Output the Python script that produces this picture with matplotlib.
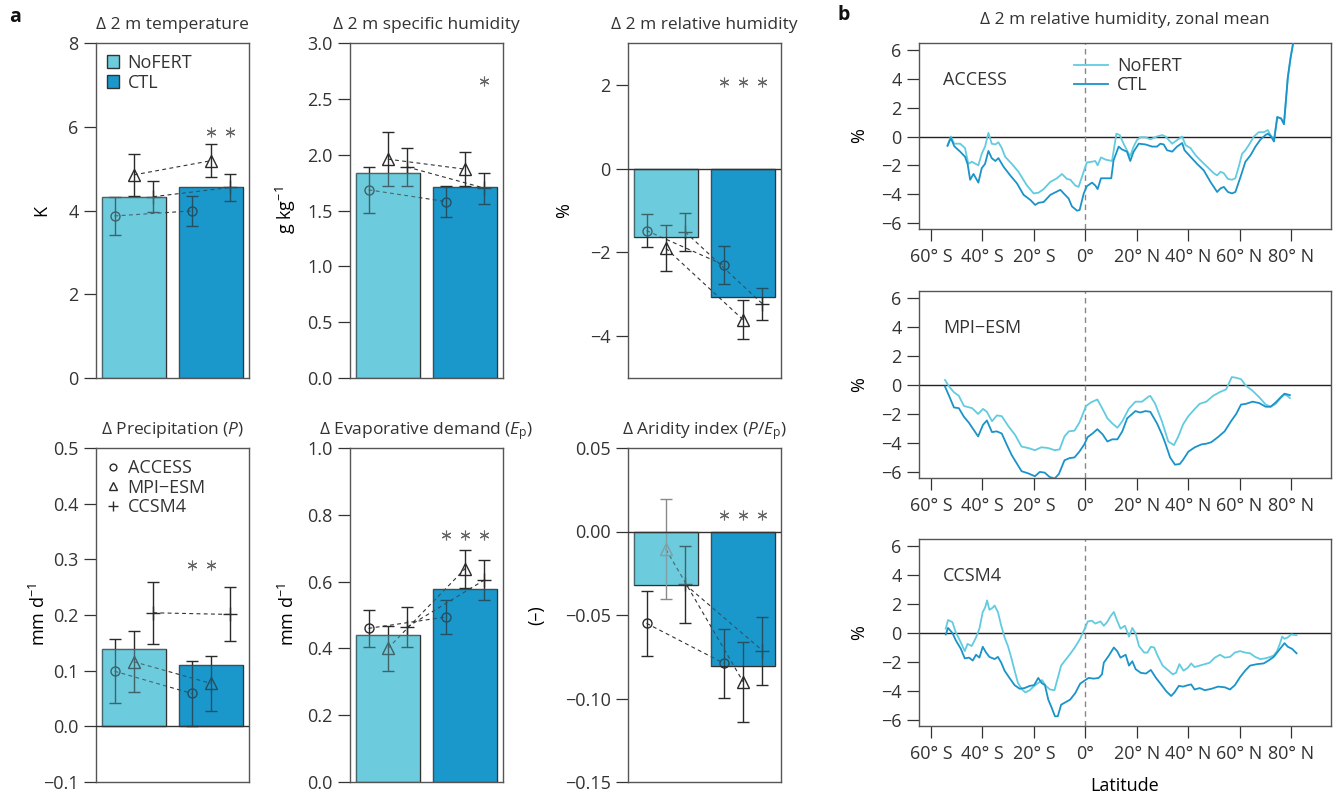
import matplotlib
matplotlib.use("Agg")
import matplotlib.pyplot as plt
from matplotlib.patches import Patch
from matplotlib.lines import Line2D

plt.rcParams['font.family'] = ['Open Sans', 'DejaVu Sans']
plt.rcParams['mathtext.fontset'] = 'custom'
plt.rcParams['mathtext.rm'] = 'Open Sans'
plt.rcParams['mathtext.it'] = 'Open Sans:italic'
plt.rcParams['text.color'] = '#333333'

# ---- panel a data: ensemble means (bars) and per-model values ----
runs = ['NoFERT', 'CTL']
models = ['ACCESS', 'MPI\u2212ESM', 'CCSM4']

temp_mean = [4.33, 4.55]
temp_nofert = [3.87, 4.85, 4.33]
temp_nofert_err = [0.455, 0.50, 0.37]
temp_ctl = [3.99, 5.19, 4.55]
temp_ctl_err = [0.355, 0.40, 0.315]
temp_stars = [False, True, True]

shum_mean = [1.84, 1.71]
shum_nofert = [1.685, 1.96, 1.89]
shum_nofert_err = [0.205, 0.24, 0.17]
shum_ctl = [1.58, 1.87, 1.70]
shum_ctl_err = [0.135, 0.155, 0.14]
shum_stars = [False, False, True]

rhum_mean = [-1.64, -3.06]
rhum_nofert = [-1.48, -1.90, -1.51]
rhum_nofert_err = [0.395, 0.555, 0.46]
rhum_ctl = [-2.30, -3.61, -3.23]
rhum_ctl_err = [0.46, 0.465, 0.39]
rhum_stars = [True, True, True]

prec_mean = [0.139, 0.111]
prec_nofert = [0.099, 0.116, 0.204]
prec_nofert_err = [0.0575, 0.055, 0.0555]
prec_ctl = [0.059, 0.077, 0.201]
prec_ctl_err = [0.059, 0.049, 0.0485]
prec_stars = [True, True, False]

evap_mean = [0.44, 0.578]
evap_nofert = [0.46, 0.40, 0.464]
evap_nofert_err = [0.055, 0.0685, 0.0585]
evap_ctl = [0.494, 0.639, 0.605]
evap_ctl_err = [0.0515, 0.057, 0.06]
evap_stars = [True, True, True]

arid_mean = [-0.0323, -0.0805]
arid_nofert = [-0.055, -0.0106, -0.0317]
arid_nofert_err = [0.0193, 0.0299, 0.0233]
arid_ctl = [-0.0789, -0.090, -0.0713]
arid_ctl_err = [0.0207, 0.024, 0.0204]
arid_stars = [True, True, True]

# ---- panel b data: zonal mean change in 2 m relative humidity (%) ----
acc_lat_nf = [-53.6, -52.3, -51, -48.7, -46.8, -45.5, -44.2, -41.6, -40.3, -39, -37.7, -36.4, -35, -33.8,
              -32.5, -31.2, -28.6, -26, -22.7, -20.1, -18.2, -16.2, -13.6, -11, -9.1, -7.1, -5.8, -3.9, -2.6,
              -1.3, 0.6, 2.6, 3.9, 4.8, 6.1, 7.8, 10.4, 12.1, 13.4, 14.9, 16.9, 17.5, 18.8, 20.1, 21.4, 23.4,
              25.3, 27.9, 29.9, 31.2, 32.5, 33.8, 35.7, 37.7, 39, 40.9, 42.9, 44.8, 47.4, 50, 51.3, 52.6, 53.9,
              55.5, 57.1, 58.4, 59.7, 61, 62.3, 63.6, 65.6, 67.5, 69.5, 71, 72.1, 73.4, 74.7, 76.2, 77.3, 78.8,
              79.9, 80.9, 81.8]
acc_nf = [-0.6, 0.0, -0.5, -0.5, -0.8, -1.9, -1.75, -2.0, -1.2, -0.7, 0.25, -0.5, -0.55, -0.4,
          -0.8, -1.4, -1.9, -2.45, -3.4, -3.95, -3.9, -3.65, -3.15, -2.9, -2.6, -2.95, -3.0, -3.4, -3.5,
          -2.8, -1.8, -1.75, -1.7, -2.0, -1.45, -1.6, -1.7, 0.2, 0.1, -0.5, -1.2, -1.35, -0.7, -0.25, -0.05, -0.05,
          -0.2, 0.0, 0.1, 0.0, -0.25, -0.5, -0.25, 0.0, -0.6, -0.8, -1.3, -1.65, -2.1, -2.55, -2.7, -2.45, -2.55,
          -2.95, -3.0, -2.9, -2.1, -1.2, -0.95, -0.6, 0.0, 0.3, 0.3, 0.45, 0.1, -0.25, 1.35, 1.25, 0.9, 4.1,
          5.5, 6.5, 8.0]
acc_lat_ctl = [-53.6, -52.3, -51, -48.7, -46.8, -45.8, -44.8, -43.5, -41.6, -40.3, -39, -37.7, -36.4, -35,
               -33.8, -31.8, -29.2, -26.6, -24, -21.4, -19.5, -18.2, -16.2, -13.6, -9.7, -8.4, -6.5, -5.2, -3.2,
               -2.2, -0.6, 0.6, 2.6, 3.9, 4.8, 6.1, 8.4, 10.1, 11, 13, 14.3, 16.2, 17.5, 18.8, 20.8, 23.4, 26,
               27.9, 29.2, 30.5, 31.8, 33.8, 35.7, 37.7, 38.6, 40.9, 43.5, 46.1, 48.7, 51.3, 52.6, 53.9, 55.5,
               57.1, 58.4, 60.4, 62.3, 64.3, 66.2, 68.2, 70.1, 71, 72.3, 73.4, 74.7, 76.2, 77.3, 78.8, 79.9,
               80.9, 81.8]
acc_ctl = [-0.65, -0.1, -0.67, -1.05, -1.4, -1.9, -3.0, -2.6, -3.2, -2.2, -1.9, -1.0, -1.5, -1.7,
           -1.5, -2.1, -2.7, -3.25, -4.05, -4.4, -4.75, -4.6, -4.55, -4.05, -3.7, -3.95, -4.3, -4.85, -5.15,
           -5.1, -3.95, -3.45, -3.2, -3.4, -3.65, -2.9, -2.9, -2.9, -1.65, -0.7, -0.9, -1.05, -1.7, -1.05, -0.5,
           -0.55, -0.7, -0.7, -0.5, -0.55, -0.95, -1.05, -0.7, -0.45, -0.95, -1.4, -1.9, -2.35, -3.15, -3.85,
           -3.6, -3.5, -3.85, -3.95, -3.85, -2.8, -1.75, -1.3, -0.7, -0.2, 0.1, 0.2, 0.0, -0.35, 1.35, 1.25,
           0.85, 4.1, 5.5, 6.5, 8.0]

mpi_lat_nf = [-54.6, -53, -51.1, -49.2, -47.2, -44, -41.7, -39.8, -38.3, -36.3, -34.4, -32.5, -29.9, -27.3,
              -24.8, -22.2, -19.6, -17.1, -14.5, -11.9, -10, -8.1, -6.4, -4.2, -2.3, 0.3, 2.2, 4.7, 6.7, 8.6,
              10.5, 12.5, 14.4, 16.9, 19.5, 22.1, 24.6, 25.3, 27.2, 29.8, 32.3, 34.5, 36.2, 38.1, 40.1, 42.6,
              44.5, 47.1, 49.7, 52.2, 54.8, 57, 58.7, 60.6, 62.5, 65.1, 67.7, 70.2, 72.1, 74.1, 76, 77.5,
              78.6, 79.6]
mpi_nf = [0.35, -0.1, -0.5, -0.75, -1.45, -1.6, -2.0, -1.65, -1.85, -2.5, -2.1, -2.15, -2.85, -3.45,
          -4.25, -4.35, -4.5, -4.3, -4.35, -4.5, -4.45, -3.55, -3.2, -3.15, -2.6, -1.45, -1.2, -1.0, -1.65, -2.3,
          -2.65, -2.95, -2.5, -1.65, -1.15, -1.15, -0.8, -0.75, -1.3, -2.5, -3.9, -4.15, -3.55, -2.7, -2.15,
          -1.65, -1.3, -1.15, -0.75, -0.5, -0.3, 0.55, 0.5, 0.4, -0.05, -0.4, -0.85, -1.35, -1.5, -1.3, -0.9,
          -0.65, -0.75, -0.9]
mpi_lat_ctl = [-54.6, -53, -51.1, -49.2, -47.2, -45.3, -41.7, -39.8, -38.3, -36.3, -34.4, -32.5, -30.6,
               -28.6, -26.7, -24.8, -22.2, -19.6, -17.7, -15.8, -13.9, -11.9, -10.3, -8.1, -6.2, -4.2, -2.3,
               -0.4, 0.9, 2.8, 4.7, 6.7, 8.6, 10.5, 12.5, 14.4, 16.3, 19.5, 21.4, 23.4, 25.3, 27.9, 29.8, 31.1,
               33, 34.9, 36.8, 38.1, 40.1, 42.6, 45.2, 47.1, 49, 51.6, 54.2, 56.7, 58.7, 60.6, 62.5, 65.1,
               67.7, 70.2, 72.1, 74.1, 76, 77.5, 78.6, 79.6]
mpi_ctl = [-0.1, -0.75, -1.55, -1.6, -2.2, -2.6, -3.55, -2.75, -2.45, -3.25, -3.2, -3.35, -4.1,
           -4.85, -5.4, -5.95, -6.1, -6.3, -6.0, -6.05, -6.35, -6.45, -6.15, -5.2, -5.05, -5.0, -4.6,
           -4.1, -3.6, -3.35, -3.05, -3.4, -3.9, -3.75, -3.75, -3.2, -2.3, -1.8, -1.9, -1.8, -1.85, -2.65, -3.4,
           -4.0, -5.0, -5.5, -5.45, -5.15, -4.6, -4.3, -4.1, -4.05, -3.95, -3.6, -3.2, -2.5, -2.0, -1.35, -1.3,
           -1.15, -1.25, -1.5, -1.5, -1.2, -0.85, -0.6, -0.65, -0.7]

ccsm_lat_nf = [-54.3, -53.4, -51.7, -50.4, -49.1, -47.8, -46.9, -45.8, -44.2, -42.5, -41.2, -39.9, -39,
               -38.2, -37.3, -36, -35.3, -34, -32.7, -31.4, -30.1, -28.8, -27.5, -26.2, -24.6, -23.3, -21.6,
               -19.9, -18.3, -16.8, -15.4, -13.7, -12, -10.7, -9.4, -7.9, -5.9, -3.9, -2, 0, 1, 2.6, 3.9, 5.9,
               7.2, 8.5, 9.8, 11.1, 12.4, 13.7, 15.4, 17, 18.3, 19.6, 20.9, 22.9, 24.2, 25.5, 26.8, 28.1, 30.1,
               32.1, 34, 35.3, 36.6, 38.2, 39.9, 41.2, 42.5, 44.5, 46.5, 48.4, 50.4, 52.4, 54.3, 56.3, 58.2,
               60.2, 62.2, 64.1, 66.1, 68.1, 70, 72, 73.3, 74.6, 75.7, 76.6, 77.5, 78.8, 80.1, 82.2]
ccsm_nf = [0.3, 0.9, 0.75, 0.05, -0.4, -0.9, -1.25, -0.75, -0.9, -0.3, 0.3, 1.45, 1.75,
           2.25, 1.6, 1.75, 1.9, 1.45, 0.5, -0.3, -0.9, -1.7, -2.6, -3.45, -3.9, -4.1, -3.95,
           -3.65, -3.45, -3.25, -3.65, -3.9, -3.95, -3.1, -2.25, -1.9, -1.45, -0.95, -0.4, 0.4, 0.8, 0.85, 0.65, 0.8,
           0.5, 0.75, 1.15, 1.45, 0.85, 0.3, 0.5, -0.25, 0.35, -0.05, -0.9, -1.35, -1.35, -0.95, -1.0, -1.55, -2.25,
           -2.55, -2.85, -2.75, -2.15, -2.6, -2.4, -2.1, -2.35, -2.25, -2.15, -2.05, -1.7, -1.5, -1.7, -1.65, -1.35,
           -1.25, -1.35, -1.4, -1.65, -1.8, -1.75, -1.65, -1.55, -1.25, -0.75, -0.25, -0.4, -0.3, -0.1, -0.15]
ccsm_lat_ctl = [-54.3, -53.4, -51.7, -50.4, -48.4, -46.9, -45.2, -43.8, -42.5, -41.2, -39.9, -38.6, -37.3,
                -35.3, -34, -32.7, -31.4, -29.5, -27.5, -25.5, -23.6, -21.6, -19.9, -18.3, -17, -15.7, -14.4,
                -13.1, -11.8, -10.7, -9.4, -7.9, -5.9, -3.9, -2, 0, 1.3, 3.3, 5.2, 6.5, 7.2, 9.2, 11.1, 12.4,
                13.7, 15.7, 17, 18.3, 19.6, 21.6, 23.6, 25.5, 27.5, 29.5, 31.4, 33.4, 34.7, 36.4, 38, 39.9,
                41.2, 42.5, 44.5, 46.5, 49.1, 51.7, 54.3, 56.3, 58.2, 60.2, 62.2, 64.1, 66.8, 69.4, 71.3, 73.3,
                75.3, 77.5, 78.8, 80.5, 82.2]
ccsm_ctl = [-0.1, 0.35, 0.0, -0.5, -1.1, -1.75, -1.7, -1.9, -1.5, -1.7, -0.95, -1.35, -1.65,
            -1.8, -1.65, -2.05, -2.6, -3.1, -3.6, -3.85, -3.8, -3.65, -3.6, -3.1, -3.45, -3.6, -4.6,
            -5.15, -5.75, -5.75, -4.95, -4.8, -4.6, -4.15, -3.5, -3.25, -3.1, -3.15, -3.1, -2.85, -2.05, -1.55, -1.0,
            -1.25, -1.7, -1.5, -2.25, -1.95, -2.5, -2.75, -2.8, -2.55, -3.1, -3.55, -4.0, -4.35, -4.1, -3.65, -3.7,
            -3.6, -3.55, -3.9, -3.8, -3.95, -3.85, -3.7, -3.75, -3.9, -3.6, -3.05, -2.6, -2.25, -2.15, -2.1, -1.9,
            -1.65, -1.2, -0.7, -0.95, -1.1, -1.4]

lat_ticks = [-60, -40, -20, 0, 20, 40, 60, 80]
lat_labels = ['60\u00b0 S', '40\u00b0 S', '20\u00b0 S', '0\u00b0', '20\u00b0 N', '40\u00b0 N', '60\u00b0 N', '80\u00b0 N']

# ---- style ----
c_nofert = '#6ccbdc'
c_ctl = '#1b98cb'
l_nofert = '#62cbe0'
l_ctl = '#1a93c9'
ink = '#2a2a2a'
spine = '#555555'
fs = 13
fs_title = 12.5

W, H = 1335, 794
fig = plt.figure(figsize=(W / 100, H / 100), dpi=100)


def px_axes(l, t, r, b):
    return fig.add_axes([l / W, 1 - b / H, (r - l) / W, (b - t) / H])


def style(ax):
    for s in ax.spines.values():
        s.set_color(spine)
        s.set_linewidth(1.0)
    ax.tick_params(direction='out', length=8.5, width=0.9, color='#333333',
                   labelsize=fs, labelcolor='#333333', pad=4)


centers = [0.7, 1.9]
offsets = [-0.3, 0.0, 0.3]
marks = ['o', '^', '+']
msizes = [6.5, 8.5, 10]


def bar_panel(ax, mean, nf, nf_err, ctl, ctl_err, stars, star_y, ylim, yticks, ylabels,
              title, ylabel, ylabel_x, zero_line=False, colors=None):
    style(ax)
    if colors is None:
        colors = [[ink] * 3, [ink] * 3]
    ax.bar(centers, mean, width=1.0, color=[c_nofert, c_ctl], edgecolor='#333333',
           linewidth=1.0, zorder=1)
    for m in range(3):
        xs = [centers[0] + offsets[m], centers[1] + offsets[m]]
        ys = [nf[m], ctl[m]]
        es = [nf_err[m], ctl_err[m]]
        ax.plot(xs, ys, ls=(0, (3.5, 3)), color='#333333', lw=0.8, zorder=2)
        for r in range(2):
            col = colors[r][m]
            ax.errorbar(xs[r], ys[r], yerr=es[r], fmt='none', ecolor=col, elinewidth=1.0,
                        capsize=4.5, capthick=1.0, zorder=2)
            ax.plot(xs[r], ys[r], marker=marks[m], ms=msizes[m], mfc='none', mec=col,
                    mew=1.0, zorder=2)
        if stars[m]:
            ax.plot(xs[1], star_y, marker=(6, 2, 0), ms=7, color='#666666', mew=0.8, zorder=3)
    # tint overlay: same colour, so only marks inside the bars change
    ax.bar(centers, mean, width=1.0, color=[c_nofert, c_ctl], alpha=0.35,
           linewidth=0, zorder=2.5)
    if zero_line:
        ax.axhline(0, color='#333333', lw=1.0, zorder=2.6)
    ax.set_xlim(0.112, 2.488)
    ax.set_ylim(*ylim)
    ax.set_xticks([])
    ax.set_yticks(yticks)
    ax.set_yticklabels(ylabels)
    ax.set_title(title, fontsize=fs_title, pad=10, color='#333333')
    ax.set_ylabel(ylabel, fontsize=fs)
    ax.yaxis.set_label_coords(ylabel_x, 0.5)


ax1 = px_axes(96, 43, 249, 378)
bar_panel(ax1, temp_mean, temp_nofert, temp_nofert_err, temp_ctl, temp_ctl_err, temp_stars, 5.88,
          (0, 8), [0, 2, 4, 6, 8], ['0', '2', '4', '6', '8'],
          '\u0394 2 m temperature', 'K', -0.30)
ax1.legend(handles=[Patch(facecolor=c_nofert, edgecolor='#333333', label='NoFERT'),
                    Patch(facecolor=c_ctl, edgecolor='#333333', label='CTL')],
           loc='upper left', frameon=False, fontsize=fs, handlelength=0.7, handleheight=0.7,
           handletextpad=0.45, labelspacing=0.1, borderaxespad=0.3, borderpad=0.3)

ax2 = px_axes(350, 43, 503, 378)
bar_panel(ax2, shum_mean, shum_nofert, shum_nofert_err, shum_ctl, shum_ctl_err, shum_stars, 2.66,
          (0, 3), [0, 0.5, 1, 1.5, 2, 2.5, 3], ['0.0', '0.5', '1.0', '1.5', '2.0', '2.5', '3.0'],
          '\u0394 2 m specific humidity', 'g kg$^{-1}$', -0.34)

ax3 = px_axes(628, 43, 781, 378)
bar_panel(ax3, rhum_mean, rhum_nofert, rhum_nofert_err, rhum_ctl, rhum_ctl_err, rhum_stars, 2.06,
          (-5, 3), [-4, -2, 0, 2], ['\u22124', '\u22122', '0', '2'],
          '\u0394 2 m relative humidity', '%', -0.36, zero_line=True)

ax4 = px_axes(96, 448, 249, 782)
bar_panel(ax4, prec_mean, prec_nofert, prec_nofert_err, prec_ctl, prec_ctl_err, prec_stars, 0.29,
          (-0.1, 0.5), [-0.1, 0, 0.1, 0.2, 0.3, 0.4, 0.5],
          ['\u22120.1', '0.0', '0.1', '0.2', '0.3', '0.4', '0.5'],
          '\u0394 Precipitation ($\\mathit{P}$)', 'mm d$^{-1}$', -0.31, zero_line=True)
ax4.legend(handles=[Line2D([], [], ls='none', marker=marks[i], ms=msizes[i] * 0.75, mfc='none',
                           mec=ink, mew=1.0, label=models[i]) for i in range(3)],
           loc='upper left', frameon=False, fontsize=fs, handlelength=0.7,
           handletextpad=0.45, labelspacing=0.1, borderaxespad=0.3, borderpad=0.3)

ax5 = px_axes(350, 448, 503, 782)
bar_panel(ax5, evap_mean, evap_nofert, evap_nofert_err, evap_ctl, evap_ctl_err, evap_stars, 0.741,
          (0, 1), [0, 0.2, 0.4, 0.6, 0.8, 1.0], ['0.0', '0.2', '0.4', '0.6', '0.8', '1.0'],
          '\u0394 Evaporative demand ($\\mathit{E}_{\\mathrm{p}}$)', 'mm d$^{-1}$', -0.34)

ax6 = px_axes(628, 448, 781, 782)
arid_colors = [[ink, '#8a8a8a', ink], [ink, ink, ink]]
bar_panel(ax6, arid_mean, arid_nofert, arid_nofert_err, arid_ctl, arid_ctl_err, arid_stars, 0.0098,
          (-0.15, 0.05), [-0.15, -0.1, -0.05, 0, 0.05],
          ['\u22120.15', '\u22120.10', '\u22120.05', '0.00', '0.05'],
          '\u0394 Aridity index ($\\mathit{P}/\\mathit{E}_{\\mathrm{p}}$)', '(\u2013)', -0.54,
          zero_line=True, colors=arid_colors)


def zonal_panel(ax, lat_nf, nf, lat_ctl, ctl, name, xlabel=False):
    style(ax)
    ax.axhline(0, color='#222222', lw=1.0, zorder=1)
    ax.axvline(0, color='#888888', ls=(0, (4, 3)), lw=1.0, zorder=1)
    ax.plot(lat_nf, nf, color=l_nofert, lw=1.3, zorder=2, label='NoFERT')
    ax.plot(lat_ctl, ctl, color=l_ctl, lw=1.3, zorder=3, label='CTL')
    ax.set_xlim(-64.7, 95.6)
    ax.set_ylim(-6.42, 6.49)
    ax.set_yticks([-6, -4, -2, 0, 2, 4, 6])
    ax.set_yticklabels(['\u22126', '\u22124', '\u22122', '0', '2', '4', '6'])
    ax.set_xticks(lat_ticks)
    ax.set_xticklabels(lat_labels)
    ax.tick_params(axis='x', pad=5)
    ax.set_ylabel('%', fontsize=fs)
    ax.yaxis.set_label_coords(-0.123, 0.5)
    ax.text(0.058, 0.8, name, transform=ax.transAxes, fontsize=fs, va='center', ha='left')
    if xlabel:
        ax.set_xlabel('Latitude', fontsize=fs, labelpad=10)


bx1 = px_axes(919, 43, 1331, 229)
zonal_panel(bx1, acc_lat_nf, acc_nf, acc_lat_ctl, acc_ctl, 'ACCESS')
bx1.legend(loc='upper left', bbox_to_anchor=(0.34, 1.0), frameon=False, fontsize=fs,
           handlelength=1.9, handletextpad=0.5, labelspacing=0.05, borderpad=0.3)
bx2 = px_axes(919, 291, 1331, 478)
zonal_panel(bx2, mpi_lat_nf, mpi_nf, mpi_lat_ctl, mpi_ctl, 'MPI\u2212ESM')
bx3 = px_axes(919, 539, 1331, 726)
zonal_panel(bx3, ccsm_lat_nf, ccsm_nf, ccsm_lat_ctl, ccsm_ctl, 'CCSM4', xlabel=True)

fig.text(1125 / W, 1 - 20 / H, '\u0394 2 m relative humidity, zonal mean', fontsize=fs_title,
         ha='center', va='center')
fig.text(9 / W, 1 - 17 / H, 'a', fontsize=14, fontweight='bold', ha='left', va='center', color='#111111')
fig.text(838 / W, 1 - 15 / H, 'b', fontsize=14, fontweight='bold', ha='left', va='center', color='#111111')

fig.savefig('out.png', dpi=100)
